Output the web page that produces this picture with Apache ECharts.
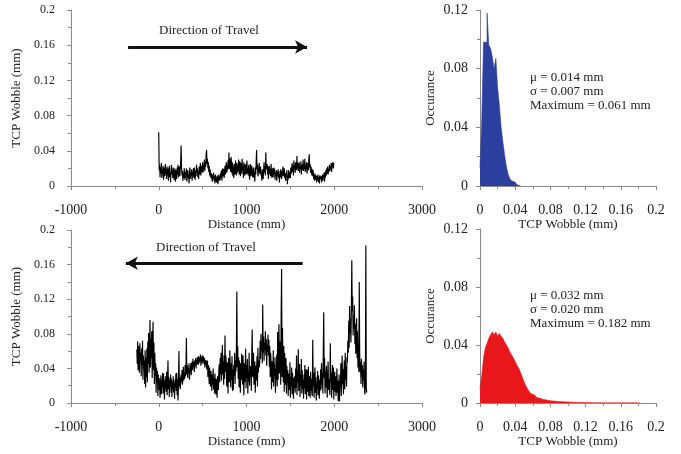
<!DOCTYPE html>
<html>
<head>
<meta charset="utf-8">
<script src="https://cdn.jsdelivr.net/npm/echarts@6/dist/echarts.min.js"></script>
<style>
html,body{margin:0;padding:0;background:#fff;}
#chart{width:681px;height:454px;}
</style>
</head>
<body>
<div id="chart"></div>
<script>
// ---- Top trace: TCP wobble (mm) vs distance (mm), travel in + direction ----
const topDistance = [
0,5,10,15,20,25,30,35,40,45,50,55,60,65,70,75,80,85,90,95,
100,105,110,115,120,125,130,135,140,145,150,155,160,165,170,175,180,185,190,195,
200,205,210,215,220,225,230,235,240,245,250,255,260,265,270,275,280,285,290,295,
300,305,310,315,320,325,330,335,340,345,350,355,360,365,370,375,380,385,390,395,
400,405,410,415,420,425,430,435,440,445,450,455,460,465,470,475,480,485,490,495,
500,505,510,515,520,525,530,535,540,545,550,555,560,565,570,575,580,585,590,595,
600,605,610,615,620,625,630,635,640,645,650,655,660,665,670,675,680,685,690,695,
700,705,710,715,720,725,730,735,740,745,750,755,760,765,770,775,780,785,790,795,
800,805,810,815,820,825,830,835,840,845,850,855,860,865,870,875,880,885,890,895,
900,905,910,915,920,925,930,935,940,945,950,955,960,965,970,975,980,985,990,995,
1000,1005,1010,1015,1020,1025,1030,1035,1040,1045,1050,1055,1060,1065,1070,1075,1080,1085,1090,1095,
1100,1105,1110,1115,1120,1125,1130,1135,1140,1145,1150,1155,1160,1165,1170,1175,1180,1185,1190,1195,
1200,1205,1210,1215,1220,1225,1230,1235,1240,1245,1250,1255,1260,1265,1270,1275,1280,1285,1290,1295,
1300,1305,1310,1315,1320,1325,1330,1335,1340,1345,1350,1355,1360,1365,1370,1375,1380,1385,1390,1395,
1400,1405,1410,1415,1420,1425,1430,1435,1440,1445,1450,1455,1460,1465,1470,1475,1480,1485,1490,1495,
1500,1505,1510,1515,1520,1525,1530,1535,1540,1545,1550,1555,1560,1565,1570,1575,1580,1585,1590,1595,
1600,1605,1610,1615,1620,1625,1630,1635,1640,1645,1650,1655,1660,1665,1670,1675,1680,1685,1690,1695,
1700,1705,1710,1715,1720,1725,1730,1735,1740,1745,1750,1755,1760,1765,1770,1775,1780,1785,1790,1795,
1800,1805,1810,1815,1820,1825,1830,1835,1840,1845,1850,1855,1860,1865,1870,1875,1880,1885,1890,1895,
1900,1905,1910,1915,1920,1925,1930,1935,1940,1945,1950,1955,1960,1965,1970,1975,1980,1985,1990,1995
];
const topWobble = [
0.061,0.018,0.024,0.010,0.021,0.015,0.026,0.009,0.019,0.013,0.023,0.007,0.017,0.021,0.011,0.025,0.014,0.019,0.008,0.022,
0.012,0.020,0.006,0.017,0.023,0.010,0.015,0.004,0.019,0.024,0.013,0.018,0.009,0.021,0.016,0.007,0.014,0.020,0.005,0.012,
0.018,0.008,0.021,0.013,0.024,0.010,0.016,0.022,0.011,0.019,0.027,0.046,0.020,0.012,0.017,0.006,0.015,0.009,0.020,0.014,
0.007,0.016,0.011,0.020,0.005,0.014,0.018,0.009,0.013,0.003,0.017,0.021,0.008,0.015,0.011,0.019,0.006,0.016,0.012,0.020,
0.009,0.021,0.014,0.007,0.018,0.011,0.024,0.015,0.020,0.010,0.017,0.008,0.022,0.013,0.019,0.026,0.012,0.018,0.023,0.016,
0.027,0.015,0.024,0.019,0.030,0.017,0.028,0.022,0.036,0.041,0.025,0.031,0.020,0.027,0.016,0.023,0.012,0.019,0.010,0.015,
0.008,0.014,0.005,0.012,0.009,0.015,0.006,0.011,0.003,0.013,0.008,0.010,0.004,0.012,0.007,0.002,0.010,0.013,0.006,0.011,
0.007,0.015,0.010,0.018,0.006,0.016,0.020,0.011,0.019,0.009,0.017,0.023,0.013,0.021,0.027,0.015,0.024,0.018,0.029,0.020,
0.038,0.019,0.031,0.024,0.016,0.033,0.021,0.014,0.027,0.011,0.022,0.009,0.025,0.017,0.013,0.029,0.020,0.012,0.026,0.015,
0.024,0.017,0.030,0.013,0.021,0.028,0.011,0.019,0.026,0.014,0.031,0.018,0.023,0.009,0.027,0.016,0.012,0.025,0.018,0.013,
0.022,0.029,0.014,0.020,0.012,0.024,0.017,0.007,0.019,0.025,0.011,0.018,0.023,0.014,0.010,0.017,0.021,0.009,0.016,0.005,
0.021,0.013,0.027,0.041,0.019,0.024,0.011,0.009,0.020,0.026,0.014,0.018,0.022,0.012,0.016,0.006,0.019,0.013,0.008,0.017,
0.027,0.015,0.022,0.012,0.038,0.019,0.017,0.025,0.013,0.022,0.008,0.018,0.023,0.014,0.019,0.011,0.025,0.016,0.009,0.020,
0.018,0.010,0.021,0.014,0.020,0.007,0.015,0.011,0.018,0.006,0.016,0.012,0.019,0.009,0.017,0.004,0.013,0.010,0.019,0.015,
0.008,0.017,0.012,0.022,0.011,0.016,0.020,0.009,0.015,0.006,0.014,0.010,0.018,0.002,0.012,0.007,0.018,0.013,0.009,0.016,
0.009,0.021,0.014,0.019,0.026,0.016,0.023,0.012,0.029,0.019,0.024,0.015,0.027,0.021,0.018,0.034,0.020,0.026,0.017,0.022,
0.027,0.015,0.023,0.019,0.028,0.013,0.024,0.018,0.022,0.030,0.017,0.025,0.019,0.031,0.016,0.023,0.020,0.027,0.014,0.021,
0.026,0.018,0.030,0.036,0.021,0.025,0.015,0.022,0.024,0.012,0.019,0.011,0.018,0.008,0.013,0.006,0.014,0.010,0.007,0.012,
0.004,0.011,0.007,0.013,0.005,0.010,0.003,0.012,0.008,0.006,0.011,0.004,0.009,0.013,0.006,0.010,0.008,0.015,0.005,0.016,
0.010,0.018,0.012,0.020,0.014,0.022,0.013,0.019,0.016,0.024,0.017,0.022,0.019,0.026,0.016,0.023,0.021,0.027,0.020,0.026
];

// ---- Bottom trace: TCP wobble (mm) vs distance (mm), travel in - direction ----
const bottomDistance = [
-250,-245,-240,-235,-230,-225,-220,-215,-210,-205,-200,-195,-190,-185,-180,-175,-170,-165,-160,-155,
-150,-145,-140,-135,-130,-125,-120,-115,-110,-105,-100,-95,-90,-85,-80,-75,-70,-65,-60,-55,
-50,-45,-40,-35,-30,-25,-20,-15,-10,-5,0,5,10,15,20,25,30,35,40,45,
50,55,60,65,70,75,80,85,90,95,100,105,110,115,120,125,130,135,140,145,
150,155,160,165,170,175,180,185,190,195,200,205,210,215,220,225,230,235,240,245,
250,255,260,265,270,275,280,285,290,295,300,305,310,315,320,325,330,335,340,345,
350,355,360,365,370,375,380,385,390,395,400,405,410,415,420,425,430,435,440,445,
450,455,460,465,470,475,480,485,490,495,500,505,510,515,520,525,530,535,540,545,
550,555,560,565,570,575,580,585,590,595,600,605,610,615,620,625,630,635,640,645,
650,655,660,665,670,675,680,685,690,695,700,705,710,715,720,725,730,735,740,745,
750,755,760,765,770,775,780,785,790,795,800,805,810,815,820,825,830,835,840,845,
850,855,860,865,870,875,880,885,890,895,900,905,910,915,920,925,930,935,940,945,
950,955,960,965,970,975,980,985,990,995,1000,1005,1010,1015,1020,1025,1030,1035,1040,1045,
1050,1055,1060,1065,1070,1075,1080,1085,1090,1095,1100,1105,1110,1115,1120,1125,1130,1135,1140,1145,
1150,1155,1160,1165,1170,1175,1180,1185,1190,1195,1200,1205,1210,1215,1220,1225,1230,1235,1240,1245,
1250,1255,1260,1265,1270,1275,1280,1285,1290,1295,1300,1305,1310,1315,1320,1325,1330,1335,1340,1345,
1350,1355,1360,1365,1370,1375,1380,1385,1390,1395,1400,1405,1410,1415,1420,1425,1430,1435,1440,1445,
1450,1455,1460,1465,1470,1475,1480,1485,1490,1495,1500,1505,1510,1515,1520,1525,1530,1535,1540,1545,
1550,1555,1560,1565,1570,1575,1580,1585,1590,1595,1600,1605,1610,1615,1620,1625,1630,1635,1640,1645,
1650,1655,1660,1665,1670,1675,1680,1685,1690,1695,1700,1705,1710,1715,1720,1725,1730,1735,1740,1745,
1750,1755,1760,1765,1770,1775,1780,1785,1790,1795,1800,1805,1810,1815,1820,1825,1830,1835,1840,1845,
1850,1855,1860,1865,1870,1875,1880,1885,1890,1895,1900,1905,1910,1915,1920,1925,1930,1935,1940,1945,
1950,1955,1960,1965,1970,1975,1980,1985,1990,1995,2000,2005,2010,2015,2020,2025,2030,2035,2040,2045,
2050,2055,2060,2065,2070,2075,2080,2085,2090,2095,2100,2105,2110,2115,2120,2125,2130,2135,2140,2145,
2150,2155,2160,2165,2170,2175,2180,2185,2190,2195,2200,2205,2210,2215,2220,2225,2230,2235,2240,2245,
2250,2255,2260,2265,2270,2275,2280,2285,2290,2295,2300,2305,2310,2315,2320,2325,2330,2335,2340,2345,
2350,2355,2360,2365,2370
];
const bottomWobble = [
0.062,0.045,0.071,0.038,0.066,0.052,0.035,0.069,0.048,0.058,0.031,0.063,0.044,0.072,0.027,0.055,0.040,0.049,0.022,0.061,
0.018,0.052,0.030,0.063,0.024,0.071,0.045,0.081,0.035,0.060,0.096,0.041,0.074,0.052,0.083,0.029,0.064,0.094,0.038,0.070,
0.022,0.058,0.031,0.046,0.012,0.041,0.025,0.037,0.008,0.033,0.015,0.029,0.021,0.006,0.024,0.032,0.010,0.027,0.018,0.035,
0.011,0.034,0.020,0.004,0.027,0.016,0.031,0.013,0.036,0.009,0.024,0.049,0.016,0.030,0.007,0.026,0.019,0.033,0.012,0.028,
0.007,0.025,0.015,0.031,0.012,0.027,0.005,0.022,0.018,0.034,0.014,0.035,0.009,0.028,0.003,0.024,0.060,0.019,0.030,0.016,
0.018,0.033,0.024,0.038,0.021,0.030,0.042,0.026,0.035,0.028,0.044,0.031,0.039,0.075,0.033,0.044,0.029,0.041,0.035,0.046,
0.027,0.040,0.035,0.046,0.032,0.043,0.048,0.038,0.051,0.041,0.047,0.036,0.049,0.043,0.052,0.040,0.050,0.045,0.053,0.047,
0.044,0.054,0.046,0.052,0.049,0.056,0.043,0.053,0.047,0.055,0.050,0.045,0.054,0.048,0.052,0.041,0.050,0.044,0.049,0.039,
0.038,0.049,0.030,0.044,0.035,0.022,0.041,0.027,0.019,0.037,0.025,0.014,0.033,0.021,0.040,0.016,0.029,0.011,0.034,0.020,
0.010,0.028,0.017,0.006,0.031,0.022,0.015,0.038,0.045,0.024,0.052,0.033,0.058,0.026,0.041,0.067,0.033,0.048,0.021,0.055,
0.028,0.078,0.036,0.055,0.042,0.019,0.047,0.030,0.011,0.052,0.037,0.024,0.061,0.032,0.018,0.046,0.027,0.054,0.014,0.039,
0.015,0.044,0.031,0.058,0.022,0.049,0.036,0.065,0.129,0.041,0.066,0.028,0.053,0.018,0.049,0.035,0.012,0.046,0.027,0.057,
0.040,0.021,0.055,0.033,0.009,0.046,0.024,0.038,0.063,0.017,0.044,0.029,0.051,0.011,0.036,0.025,0.058,0.020,0.042,0.031,
0.043,0.014,0.056,0.085,0.030,0.047,0.058,0.021,0.039,0.048,0.012,0.043,0.026,0.037,0.054,0.019,0.064,0.035,0.049,0.041,
0.045,0.072,0.051,0.080,0.061,0.068,0.046,0.114,0.058,0.077,0.049,0.069,0.062,0.083,0.055,0.074,0.043,0.067,0.059,0.079,
0.055,0.073,0.042,0.066,0.030,0.058,0.047,0.016,0.048,0.035,0.024,0.061,0.019,0.045,0.031,0.053,0.012,0.040,0.027,0.056,
0.019,0.082,0.027,0.050,0.091,0.034,0.062,0.071,0.021,0.104,0.155,0.030,0.087,0.046,0.024,0.066,0.013,0.058,0.033,0.021,
0.052,0.011,0.043,0.023,0.038,0.008,0.034,0.026,0.015,0.047,0.006,0.030,0.019,0.041,0.010,0.035,0.022,0.005,0.029,0.017,
0.031,0.012,0.040,0.018,0.055,0.009,0.036,0.024,0.062,0.014,0.029,0.045,0.007,0.033,0.020,0.051,0.011,0.038,0.016,0.027,
0.005,0.033,0.017,0.044,0.010,0.027,0.039,0.004,0.038,0.013,0.025,0.042,0.008,0.031,0.019,0.006,0.036,0.014,0.028,0.011,
0.008,0.073,0.019,0.035,0.006,0.028,0.041,0.012,0.030,0.003,0.024,0.016,0.037,0.009,0.032,0.020,0.005,0.027,0.014,0.039,
0.016,0.046,0.021,0.034,0.011,0.058,0.105,0.029,0.052,0.011,0.037,0.018,0.043,0.024,0.006,0.033,0.048,0.015,0.028,0.019,
0.009,0.069,0.024,0.035,0.006,0.030,0.044,0.015,0.041,0.004,0.027,0.036,0.013,0.031,0.008,0.022,0.040,0.012,0.026,0.002,
0.012,0.033,0.002,0.025,0.018,0.046,0.008,0.029,0.055,0.021,0.039,0.010,0.034,0.049,0.016,0.058,0.027,0.042,0.019,0.053,
0.047,0.072,0.058,0.095,0.064,0.112,0.081,0.097,0.070,0.108,0.165,0.106,0.123,0.078,0.101,0.086,0.113,0.068,0.092,0.057,
0.064,0.098,0.052,0.083,0.041,0.069,0.036,0.140,0.058,0.035,0.047,0.022,0.051,0.030,0.044,0.018,0.039,0.026,0.048,0.014,
0.010,0.030,0.182,0.018,0.012
];

// ---- Histograms: bin start (mm) and occurrence per 0.002 mm bin ----
const topBinStart = [
0.000,0.002,0.004,0.006,0.008,0.010,0.012,0.014,0.016,0.018,0.020,0.022,
0.024,0.026,0.028,0.030,0.032,0.034,0.036,0.038,0.040,0.042,0.044,0.046
];
const topOccurrence = [
0.0125,0.045,0.098,0.098,0.118,0.096,0.094,0.088,0.080,0.087,0.067,0.055,
0.040,0.030,0.021,0.013,0.008,0.005,0.0035,0.0025,0.0015,0.0008,0.0003,0
];
const bottomBinStart = [
0.000,0.002,0.004,0.006,0.008,0.010,0.012,0.014,0.016,0.018,
0.020,0.022,0.024,0.026,0.028,0.030,0.032,0.034,0.036,0.038,
0.040,0.042,0.044,0.046,0.048,0.050,0.052,0.054,0.056,0.058,
0.060,0.062,0.064,0.066,0.068,0.070,0.072,0.074,0.076,0.078,
0.080,0.082,0.084,0.086,0.088,0.090,0.092,0.094,0.096,0.098,
0.100,0.102,0.104,0.106,0.108,0.110,0.112,0.114,0.116,0.118,
0.120,0.122,0.124,0.126,0.128,0.130,0.132,0.134,0.136,0.138,
0.140,0.142,0.144,0.146,0.148,0.150,0.152,0.154,0.156,0.158,
0.160,0.162,0.164,0.166,0.168,0.170,0.172,0.174,0.176,0.178,
0.180,0.182
];
const bottomOccurrence = [
0.009,0.019,0.031,0.038,0.041,0.0446,0.047,0.049,0.047,0.049,
0.046,0.048,0.046,0.0446,0.042,0.040,0.038,0.035,0.033,0.031,
0.0285,0.026,0.024,0.021,0.018,0.0147,0.012,0.0097,0.0078,0.0064,
0.0055,0.0046,0.0039,0.0032,0.0028,0.0025,0.0022,0.0020,0.0018,0.0016,
0.0015,0.0013,0.0012,0.0011,0.0010,0.0009,0.0009,0.0008,0.0007,0.0007,
0.0006,0.0006,0.0005,0.0005,0.0005,0.0004,0.0004,0.0004,0.0003,0.0003,
0.0003,0.0003,0.0002,0.0002,0.0002,0.0002,0.0002,0.0002,0.0001,0.0001,
0.0001,0.0001,0.0001,0.0001,0.0001,0.0001,0.0001,0.0001,0.0001,0.0001,
0.0001,0.0001,0.0001,0.0001,0.0001,0.0001,0.0001,0.0001,0.0001,0.0001,
0.0001,0
];

const topStats = ['\u03bc = 0.014 mm', '\u03c3 = 0.007 mm', 'Maximum = 0.061 mm'];
const bottomStats = ['\u03bc = 0.032 mm', '\u03c3 = 0.020 mm', 'Maximum = 0.182 mm'];
const distanceTicks = {min: -1000, max: 3000, interval: 1000};
const wobbleTicks = {min: 0, max: 0.2, interval: 0.04};
const histWobbleTicks = {min: 0, max: 0.2, interval: 0.04};
const occurrenceTicks = {min: 0, max: 0.12, interval: 0.04};

function zip(xs, ys) { return xs.map((x, i) => [x, ys[i]]); }

const SERIF = 'Liberation Serif, Times New Roman, serif';
const AX = '#8a8a8a';
const TXT = '#222';

function xAx(grid, ticks, name, labelSize) {
  return {
    type: 'value', gridIndex: grid, min: ticks.min, max: ticks.max, interval: ticks.interval,
    name: name, nameLocation: 'middle', nameGap: 31,
    nameTextStyle: {fontFamily: SERIF, fontSize: 13, color: TXT},
    axisLine: {show: true, onZero: false, lineStyle: {color: AX, width: 1}},
    axisTick: {show: true, length: 4, lineStyle: {color: AX}},
    minorTick: {show: true, splitNumber: 2, length: 3, lineStyle: {color: AX}},
    splitLine: {show: false},
    axisLabel: {fontFamily: SERIF, fontSize: labelSize, color: TXT, margin: 17,
                formatter: function (v) { return String(v); }}
  };
}
function yAx(grid, ticks, name, labelSize, margin, gap) {
  return {
    type: 'value', gridIndex: grid, min: ticks.min, max: ticks.max, interval: ticks.interval,
    name: name, nameLocation: 'middle', nameGap: gap,
    nameTextStyle: {fontFamily: SERIF, fontSize: 13, color: TXT},
    axisLine: {show: true, onZero: false, lineStyle: {color: AX, width: 1}},
    axisTick: {show: true, length: 4, lineStyle: {color: AX}},
    minorTick: {show: true, splitNumber: 2, length: 3, lineStyle: {color: AX}},
    splitLine: {show: false},
    axisLabel: {fontFamily: SERIF, fontSize: labelSize, color: TXT, margin: margin}
  };
}

function arrowLine(from, to) {
  return {
    silent: true, animation: false,
    symbol: ['none', 'arrow'], symbolSize: [10, 12],
    label: {show: false},
    lineStyle: {color: '#111', width: 3, type: 'solid'},
    data: [[{coord: from}, {coord: to}]]
  };
}

function statText(lines, left, top) {
  return lines.map((t, i) => ({
    type: 'text', left: left, top: top + i * 14,
    style: {text: t, fontFamily: SERIF, fontSize: 13, fill: TXT}
  }));
}

const chart = echarts.init(document.getElementById('chart'), null, {renderer: 'canvas'});
chart.setOption({
  animation: false,
  backgroundColor: '#fff',
  grid: [
    {left: 71, top: 10, width: 351, height: 176},
    {left: 71, top: 230, width: 351, height: 173},
    {left: 480, top: 10, width: 176, height: 176},
    {left: 480, top: 229, width: 176, height: 174}
  ],
  xAxis: [
    xAx(0, distanceTicks, 'Distance (mm)', 14),
    xAx(1, distanceTicks, 'Distance (mm)', 14),
    xAx(2, histWobbleTicks, 'TCP Wobble (mm)', 14),
    xAx(3, histWobbleTicks, 'TCP Wobble (mm)', 14)
  ],
  yAxis: [
    yAx(0, wobbleTicks, 'TCP Wobble (mm)', 12, 16, 42),
    yAx(1, wobbleTicks, 'TCP Wobble (mm)', 12, 16, 42),
    yAx(2, occurrenceTicks, 'Occurance', 14, 12, 43),
    yAx(3, occurrenceTicks, 'Occurance', 14, 12, 43)
  ],
  series: [
    {type: 'line', xAxisIndex: 0, yAxisIndex: 0, data: zip(topDistance, topWobble),
     showSymbol: false, symbol: 'none', lineStyle: {color: '#000', width: 1.15},
     markLine: arrowLine([-350, 0.158], [1690, 0.158])},
    {type: 'line', xAxisIndex: 1, yAxisIndex: 1, data: zip(bottomDistance, bottomWobble),
     showSymbol: false, symbol: 'none', lineStyle: {color: '#000', width: 1.15},
     markLine: arrowLine([1640, 0.1616], [-375, 0.1616])},
    {type: 'line', xAxisIndex: 2, yAxisIndex: 2, data: zip(topBinStart, topOccurrence),
     step: 'end', showSymbol: false, symbol: 'none',
     lineStyle: {color: '#2b3f9e', width: 0.6}, areaStyle: {color: '#2b3f9e', opacity: 1}},
    {type: 'line', xAxisIndex: 3, yAxisIndex: 3, data: zip(bottomBinStart, bottomOccurrence),
     step: 'end', showSymbol: false, symbol: 'none',
     lineStyle: {color: '#e8171b', width: 0.6}, areaStyle: {color: '#e8171b', opacity: 1}}
  ],
  graphic: [
    {type: 'text', left: 159, top: 24, style: {text: 'Direction of Travel', fontFamily: SERIF, fontSize: 13, fill: TXT}},
    {type: 'text', left: 156, top: 241, style: {text: 'Direction of Travel', fontFamily: SERIF, fontSize: 13, fill: TXT}}
  ].concat(statText(topStats, 530, 71)).concat(statText(bottomStats, 530, 289))
});
</script>
</body>
</html>
